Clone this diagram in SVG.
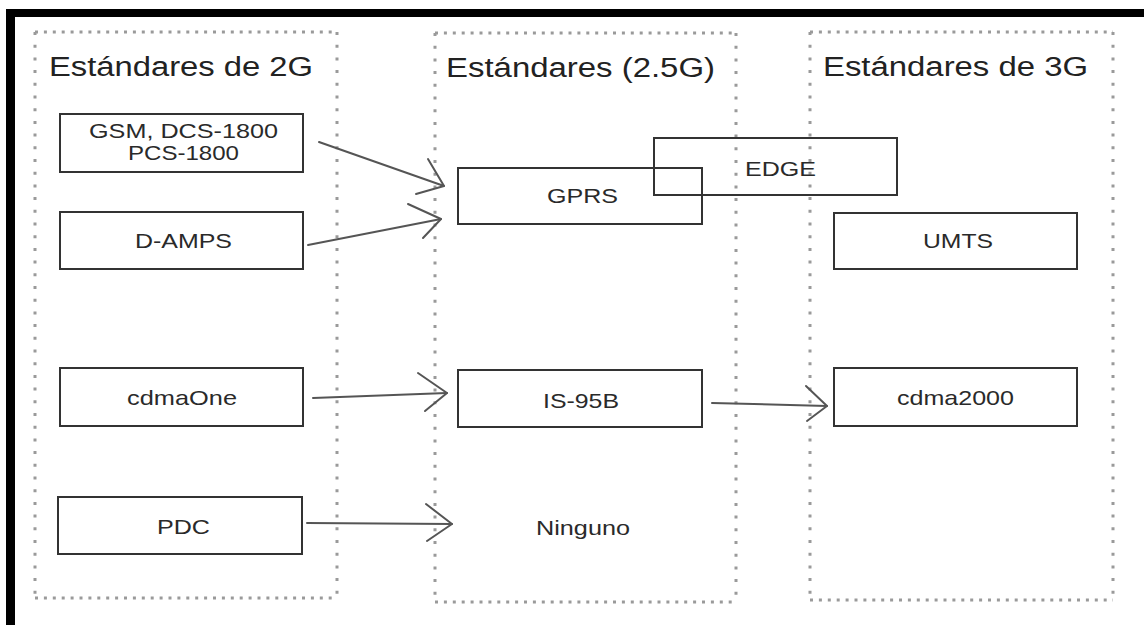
<svg xmlns="http://www.w3.org/2000/svg" width="1144" height="625" viewBox="0 0 1144 625">
<style>
.frame{fill:#000}
.dh{stroke:#9a9a9a;stroke-width:3;stroke-dasharray:3 5.9;fill:none}
.dv{stroke:#9a9a9a;stroke-width:3;stroke-dasharray:3 9.7;fill:none}
.box{fill:none;stroke:#333;stroke-width:2}
.t{font-family:"Liberation Sans",Arial,sans-serif;font-size:21px;fill:#2a2a2a}
.h{font-family:"Liberation Sans",Arial,sans-serif;font-size:27px;fill:#222}
.ln{fill:none;stroke:#555;stroke-width:2;stroke-linecap:round;stroke-linejoin:round}
</style>
<rect width="1144" height="625" fill="#fff"/>
<rect class="frame" x="6" y="9" width="1138" height="8"/>
<rect class="frame" x="6" y="9" width="9" height="616"/>

<g id="col-2g">
<path class="dh" d="M35 32H337M35 598H337"/>
<path class="dv" d="M35 32V598M337 32V598"/>
<text class="h" x="49" y="76" textLength="264" lengthAdjust="spacingAndGlyphs">Estándares de 2G</text>
</g>
<g id="col-25g">
<path class="dh" d="M435 33H736M435 602H736"/>
<path class="dv" d="M435 33V602M736 33V602"/>
<text class="h" x="446" y="77" textLength="269" lengthAdjust="spacingAndGlyphs">Estándares (2.5G)</text>
</g>
<g id="col-3g">
<path class="dh" d="M810 32H1113M810 600H1113"/>
<path class="dv" d="M810 32V600M1113 32V600"/>
<text class="h" x="823" y="76" textLength="265" lengthAdjust="spacingAndGlyphs">Estándares de 3G</text>
</g>

<g id="n-gsm">
<rect class="box" x="60" y="114" width="243" height="58"/>
<text class="t" x="89" y="138" textLength="189" lengthAdjust="spacingAndGlyphs">GSM, DCS-1800</text>
<text class="t" x="128" y="160" textLength="111" lengthAdjust="spacingAndGlyphs">PCS-1800</text>
</g>
<g id="n-damps">
<rect class="box" x="60" y="212" width="243" height="57"/>
<text class="t" x="135" y="248" textLength="97" lengthAdjust="spacingAndGlyphs">D-AMPS</text>
</g>
<g id="n-cdmaone">
<rect class="box" x="60" y="368" width="243" height="58"/>
<text class="t" x="127" y="405" textLength="110" lengthAdjust="spacingAndGlyphs">cdmaOne</text>
</g>
<g id="n-pdc">
<rect class="box" x="58" y="497" width="244" height="57"/>
<text class="t" x="157" y="534" textLength="53" lengthAdjust="spacingAndGlyphs">PDC</text>
</g>
<g id="n-gprs">
<rect class="box" x="458" y="168" width="244" height="56"/>
<text class="t" x="547" y="203" textLength="71" lengthAdjust="spacingAndGlyphs">GPRS</text>
</g>
<g id="n-edge">
<rect class="box" x="654" y="138" width="243" height="57"/>
<text class="t" x="745" y="176" textLength="71" lengthAdjust="spacingAndGlyphs">EDGE</text>
</g>
<g id="n-is95b">
<rect class="box" x="458" y="370" width="244" height="57"/>
<text class="t" x="543" y="408" textLength="76" lengthAdjust="spacingAndGlyphs">IS-95B</text>
</g>
<g id="n-ninguno">
<text class="t" x="536" y="535" textLength="94" lengthAdjust="spacingAndGlyphs">Ninguno</text>
</g>
<g id="n-umts">
<rect class="box" x="834" y="213" width="243" height="56"/>
<text class="t" x="923" y="248" textLength="70" lengthAdjust="spacingAndGlyphs">UMTS</text>
</g>
<g id="n-cdma2000">
<rect class="box" x="834" y="368" width="243" height="58"/>
<text class="t" x="897" y="405" textLength="117" lengthAdjust="spacingAndGlyphs">cdma2000</text>
</g>

<g id="connectors">
<path class="ln" d="M319 142L444 186"/>
<polyline class="ln" points="428,159 444,186 416,194"/>
<path class="ln" d="M308 245L441 219"/>
<polyline class="ln" points="408,204 441,219 423,238"/>
<path class="ln" d="M313 398L447 393"/>
<polyline class="ln" points="418,373 447,393 425,411"/>
<path class="ln" d="M712 403L827 406"/>
<polyline class="ln" points="806,386 827,406 807,421"/>
<path class="ln" d="M307 523L452 524"/>
<polyline class="ln" points="426,504 452,524 427,541"/>
</g>
</svg>
